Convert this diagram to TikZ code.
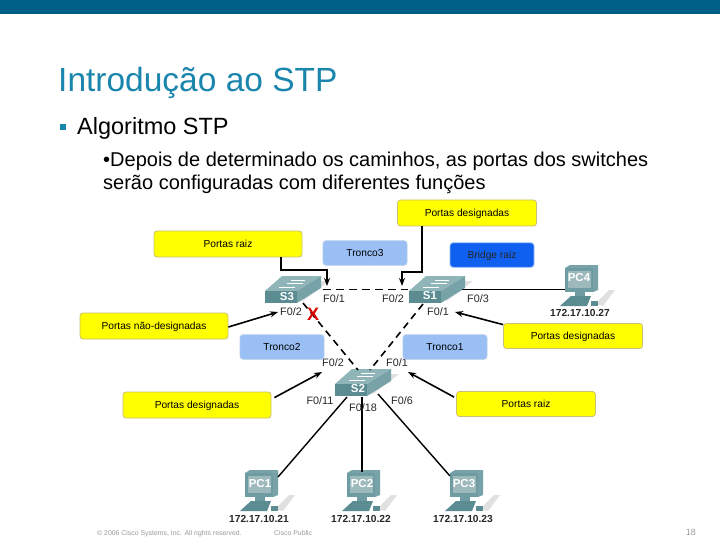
\documentclass[tikz,border=0pt]{standalone}
\usepackage{fontspec}
\setmainfont{Liberation Sans}
\newcommand{\lblfix}[1]{\raisebox{-1pt}[0.7em][0.2em]{#1}}
\usetikzlibrary{arrows.meta}
\definecolor{topbar}{HTML}{005F87}
\definecolor{titleblue}{HTML}{1A85AD}
\definecolor{yel}{HTML}{FFFF00}
\definecolor{yelb}{HTML}{C8BE78}
\definecolor{lblue}{HTML}{99BFF5}
\definecolor{lblueb}{HTML}{B5CDEB}
\definecolor{dblue}{HTML}{0F5FF0}
\definecolor{swtop}{HTML}{8FB5B8}
\definecolor{swfront}{HTML}{5A8C92}
\definecolor{swside}{HTML}{77A3A8}
\definecolor{pcbody}{HTML}{6F9CA2}
\definecolor{pcscreen}{HTML}{9DB9BC}
\definecolor{foot}{HTML}{9A9A9A}
\tikzset{
  x=1pt,y=-1pt,
  callout/.style={draw=yelb,line width=0.8pt,fill=yel,rounded corners=3pt,inner sep=0pt,font=\fontsize{10.2}{11}\selectfont,anchor=center},
  tronco/.style={draw=lblueb,line width=0.8pt,fill=lblue,rounded corners=3pt,inner sep=0pt,font=\fontsize{10.2}{11}\selectfont,anchor=center},
  port/.style={font=\fontsize{10.8}{11}\selectfont,text=black!85,inner sep=0pt},
  ip/.style={font=\fontsize{10.2}{11}\selectfont\bfseries,text=black!85,inner sep=0pt},
  link/.style={line width=1.4pt,draw=black},
  trunk/.style={line width=1.6pt,draw=black,dash pattern=on 7pt off 5pt},
  pointer/.style={line width=1.6pt,draw=black,-{Stealth[length=8pt,width=6pt]}},
  elbow/.style={line width=2pt,draw=black,-{Stealth[length=8pt,width=6pt]}},
  devtext/.style={text=white,font=\fontsize{11.5}{12}\selectfont\bfseries,inner sep=0pt},
  pics/switchbox/.style={code={
    \fill[black!12] (32,6) -- (56,-10) -- (64,-10) -- (38,10) -- cycle;
    \fill[swtop] (0,0) -- (17,-15) -- (56,-15) -- (32,0) -- cycle;
    \fill[swside] (32,0) -- (56,-15) -- (56,-3) -- (32,12) -- cycle;
    \fill[swfront] (0,0) rectangle (32,12);
    \draw[white,line width=0.6pt] (14,-4) -- (30,-4) (22,-8) -- (38,-8) (26,-11) -- (40,-11);
  }},
  pics/pcbox/.style={code={
    \fill[black!12] (30,36) -- (44,22) -- (50,22) -- (38,38) -- cycle;
    \fill[swside] (28,0) -- (33,-3) -- (33,22) -- (28,24) -- cycle;
    \fill[swside] (0,0) -- (5,-3) -- (33,-3) -- (28,0) -- cycle;
    \fill[pcbody] (0,0) rectangle (28,24);
    \fill[pcscreen] (3,3) rectangle (26,20);
    \fill[pcbody] (10,24) rectangle (20,28);
    \fill[swfront] (-5,38) -- (6,28) -- (26,28) -- (22,38) -- cycle;
    \fill[swfront] (26,33) rectangle (33,38);
  }},
}
\begin{document}
\begin{tikzpicture}
\useasboundingbox (0,0) rectangle (720,540);
\fill[white] (0,0) rectangle (720,540);
\fill[topbar] (0,0) rectangle (720,14.5);
\node[anchor=base west,inner sep=0pt,text=titleblue,font=\fontsize{33.5}{36}\selectfont] (title) at (58,92) {Introdução ao STP};
\fill[titleblue] (60,124) rectangle (66,130);
\node[anchor=base west,inner sep=0pt,font=\fontsize{23.5}{26}\selectfont] (sub) at (77,135) {Algoritmo STP};
\node[anchor=base west,inner sep=0pt,font=\fontsize{20}{22}\selectfont] (b1) at (103,167) {•Depois de determinado os caminhos, as portas dos switches};
\node[anchor=base west,inner sep=0pt,font=\fontsize{20}{22}\selectfont] (b2) at (103,190) {serão configuradas com diferentes funções};

% devices
\pic at (265,291) {switchbox};
\pic at (409,291) {switchbox};
\pic at (335,384) {switchbox};
\pic at (245,473) {pcbox};
\pic at (347,473) {pcbox};
\pic at (450,473) {pcbox};
\pic at (565,268) {pcbox};

\coordinate (s3a) at (323,289.5);
\coordinate (s1a) at (408,289.5);
\coordinate (s1d) at (423,304);
\coordinate (s3d) at (303,303);
\coordinate (s2l) at (358,370);
\coordinate (s2r) at (370,370);
\coordinate (s1e) at (462,289.5);
\coordinate (pc4l) at (565,289.5);
\coordinate (s2a) at (347,397);
\coordinate (s2b) at (362,397);
\coordinate (s2c) at (378,394);
\coordinate (pc1t) at (278,477);
\coordinate (pc2t) at (362,472);
\coordinate (pc3t) at (450,476);

\draw[link] (s1e) -- (pc4l);
\draw[link] (s2a) -- (pc1t);
\draw[link] (s2b) -- (pc2t);
\draw[link] (s2c) -- (pc3t);
\draw[trunk,line width=1pt,dash pattern=on 8pt off 5pt] (s3a) -- (s1a);
\draw[trunk] (s3d) -- (s2l);
\draw[trunk] (s1d) -- (s2r);

\node[devtext] (s3) at (287,296.5) {S3};
\node[devtext] (s1) at (430,296) {S1};
\node[devtext] (s2) at (358,389) {S2};
\node[devtext] (pc1) at (260,484) {PC1};
\node[devtext] (pc2) at (362,484) {PC2};
\node[devtext] (pc3) at (464,484) {PC3};
\node[devtext] (pc4) at (579,278) {PC4};

\node[ip] (ip4) at (580,313) {172.17.10.27};
\node[ip] (ip1) at (259,519) {172.17.10.21};
\node[ip] (ip2) at (361,519) {172.17.10.22};
\node[ip] (ip3) at (463,519) {172.17.10.23};

\node[port] (p1) at (334,299) {F0/1};
\node[port] (p2) at (291,312) {F0/2};
\node[port] (p3) at (393,299) {F0/2};
\node[port] (p4) at (478,299) {F0/3};
\node[port] (p5) at (438,312) {F0/1};
\node[port] (p6) at (333,363) {F0/2};
\node[port] (p7) at (397,363) {F0/1};
\node[port] (p8) at (320,401) {F0/11};
\node[port] (p9) at (363,408) {F0/18};
\node[port] (p10) at (402,401) {F0/6};

\node[tronco,minimum width=84pt,minimum height=24.5pt] (t3) at (365,253) {\lblfix{Tronco3}};
\node[tronco,minimum width=84pt,minimum height=24.5pt] (t2) at (282,347) {\lblfix{Tronco2}};
\node[tronco,minimum width=84pt,minimum height=24.5pt] (t1) at (445,347) {\lblfix{Tronco1}};
\node[tronco,draw=lblue,fill=dblue,minimum width=84pt,minimum height=24.5pt,text=black!85] (br) at (492,255) {\lblfix{Bridge raiz}};

\node[callout,minimum width=148pt,minimum height=26pt] (c1) at (228,244) {\lblfix{Portas raiz}};
\node[callout,minimum width=139pt,minimum height=26pt] (c2) at (467,213) {\lblfix{Portas designadas}};
\node[callout,minimum width=148pt,minimum height=26pt] (c3) at (154,326) {\lblfix{Portas não-designadas}};
\node[callout,minimum width=139pt,minimum height=25pt] (c4) at (573,336) {\lblfix{Portas designadas}};
\node[callout,minimum width=148pt,minimum height=26pt] (c5) at (197,405) {\lblfix{Portas designadas}};
\node[callout,minimum width=139pt,minimum height=25pt] (c6) at (526,404) {\lblfix{Portas raiz}};

\coordinate (c1o) at (281,257);
\coordinate (c1m) at (327,270);
\coordinate (a1) at (327,286);
\coordinate (c2o) at (422,226);
\coordinate (c2m) at (402,272);
\coordinate (a2) at (402,286);
\draw[elbow] (c1o) |- (c1m) -- (a1);
\draw[elbow] (c2o) |- (c2m) -- (a2);
\coordinate (a3) at (278,312);
\draw[pointer] (c3.east) ++(0,1) -- (a3);
\coordinate (a4) at (455,312);
\draw[pointer] (c4.north west) ++(0,1.5) -- (a4);
\coordinate (a5) at (322,372);
\draw[pointer] (c5.north east) ++(3,6) -- (a5);
\coordinate (a6) at (408,372);
\draw[pointer] (c6.north west) ++(-2,6) -- (a6);

\node[font=\fontsize{18}{18}\selectfont\bfseries,text=red!85!black,inner sep=0pt] (x) at (313,314) {X};

\node[anchor=base west,inner sep=0pt,text=foot,font=\fontsize{6.9}{7}\selectfont] (f1) at (97,535) {© 2006 Cisco Systems, Inc. All rights reserved.};
\node[anchor=base west,inner sep=0pt,text=foot,font=\fontsize{6.9}{7}\selectfont] (f2) at (274,535) {Cisco Public};
\node[anchor=base east,inner sep=0pt,text=foot,font=\fontsize{9}{9}\selectfont] (f3) at (696,535) {18};
\end{tikzpicture}
\end{document}
